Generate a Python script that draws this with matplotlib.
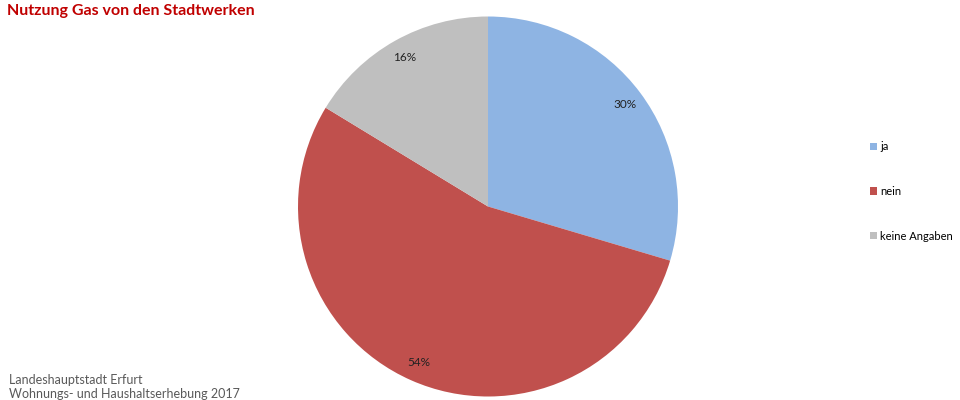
import matplotlib.pyplot as plt
from matplotlib.patches import Patch

plt.rcParams["font.family"] = ["Lato", "DejaVu Sans"]

# data (shares in %)
categories = ["ja", "nein", "keine Angaben"]
shares = [29.6, 54.1, 16.3]
colors = ["#8EB4E3", "#C0504D", "#BFBFBF"]

W, H = 960, 400
fig = plt.figure(figsize=(W / 100, H / 100), dpi=100)

# pie centre (488, 206.5), radius 190 px
cx, cy, r = 488, 206.5, 190
ax = fig.add_axes([(cx - r) / W, (H - cy - r) / H, 2 * r / W, 2 * r / H])
wedges, texts, autotexts = ax.pie(
    shares,
    colors=colors,
    startangle=90,
    counterclock=False,
    autopct=lambda p: f"{p:.0f}%",
    pctdistance=0.9,
    wedgeprops={"linewidth": 0},
    textprops={"fontsize": 8.5, "color": "#222222"},
)
ax.set_xlim(-1, 1)
ax.set_ylim(-1, 1)
ax.set_aspect("equal")

fig.text(7 / W, 1 - 11 / H, "Nutzung Gas von den Stadtwerken", color="#C00000",
         fontsize=11.5, fontweight="bold", va="center", ha="left")

fig.text(9 / W, 1 - 380 / H, "Landeshauptstadt Erfurt", color="#595959",
         fontsize=9, va="center", ha="left")
fig.text(9 / W, 1 - 394.5 / H, "Wohnungs- und Haushaltserhebung 2017", color="#595959",
         fontsize=9, va="center", ha="left")

handles = [Patch(facecolor=c, edgecolor="none") for c in colors]
fig.legend(handles, categories, loc="upper left",
           bbox_to_anchor=(860 / W, 1 - 131 / H), frameon=False,
           fontsize=8, labelspacing=3.05, handlelength=0.6, handleheight=0.6,
           handletextpad=0.3)

fig.savefig("out.png", dpi=100)
